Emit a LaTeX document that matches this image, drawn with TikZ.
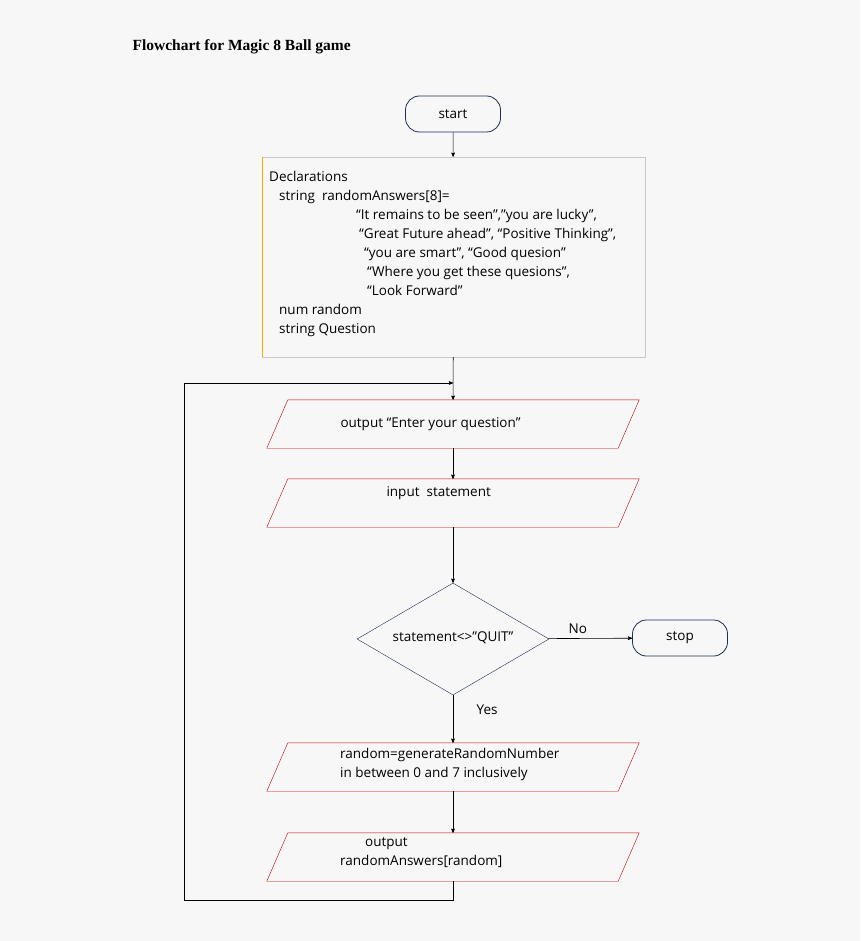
\documentclass[tikz,border=0pt]{standalone}
\usepackage{fontspec}
\setmainfont{Open Sans}
\newfontfamily\titlefont{Liberation Serif}
\usetikzlibrary{arrows,shapes.geometric}
\definecolor{bg}{HTML}{F7F7F7}
\definecolor{navy}{HTML}{1F2D4F}
\definecolor{pred}{HTML}{C00000}
\definecolor{boxgray}{HTML}{C8C8C8}
\definecolor{boxyel}{HTML}{F0B400}
\begin{document}
\begin{tikzpicture}[x=1pt,y=-1pt,>=stealth',font=\fontsize{13.5}{19}\selectfont]
\tikzset{
    term/.style={%
        draw=navy, thick,
        rectangle,
        rounded corners=14pt,
        minimum height=36pt,
        minimum width=95pt
        },
    io/.style={%
        rectangle,
        minimum height=48pt,
        minimum width=372pt
        },
    flow/.style={->, semithick},
}
\fill[bg] (0,0) rectangle (860,941);
%%%TITLE
\node[anchor=west, font=\fontsize{15.5}{17}\titlefont\bfseries] (title) at (129,47) {Flowchart for Magic 8 Ball game};
%%%SHAPES
\node[term] (start) at (453,114) {start};
\node[draw=boxgray, minimum width=383pt, minimum height=200pt] (decl) at (453.5,257) {};
\draw[boxyel] (decl.south west) -- (decl.north west);
\node[io] (ask) at (453,424) {};
\node[io] (inp) at (453,503) {};
\node[draw=navy, diamond, aspect=1.72, minimum width=192pt, minimum height=112pt, inner sep=0pt] (quit) at (453,639) {};
\node[term] (stop) at (680,638) {stop};
\node[io] (gen) at (453,767) {};
\node[io] (show) at (453,857) {};
\foreach \n in {ask,inp,gen,show}
    \draw[pred] ([xshift=21pt]\n.north west) -- (\n.north east)
        -- ([xshift=-21pt]\n.south east) -- (\n.south west) -- cycle;
%%%TEXTS
\node[anchor=north west, align=left, inner sep=0pt] (decltext) at (269,171) {Declarations\\
\hspace{10pt}string\ \ randomAnswers[8]=\\
\hspace{87pt}“It remains to be seen”,”you are lucky”,\\
\hspace{90pt}“Great Future ahead”, “Positive Thinking”,\\
\hspace{95pt}“you are smart”, “Good quesion”\\
\hspace{98pt}“Where you get these quesions”,\\
\hspace{98pt}“Look Forward”\\
\hspace{10pt}num random\\
\hspace{10pt}string Question};
\node[anchor=west] (asktext) at (337,424) {output “Enter your question”};
\node[anchor=west] (inptext) at (383,493) {input\ \ statement};
\node (quittext) at (453,638) {statement<>”QUIT”};
\node[anchor=north west, align=left, inner sep=0pt] (gentext) at (340,748) {random=generateRandomNumber\\in between 0 and 7 inclusively};
\node[anchor=north west, align=left, inner sep=0pt] (showtext) at (340,837) {\hspace{25pt}output\\randomAnswers[random]};
%%%CONNECTORS
\coordinate (join) at (453,383);
\draw[flow] (start) -- (decl);
\draw[flow] (decl) -- (ask);
\draw[flow] (ask) -- (inp);
\draw[flow] (inp) -- (quit);
\draw[flow] (quit) -- node[above=1pt, pos=0.35] {No} (stop);
\draw[flow] (quit) -- node[right=20pt, pos=0.3] {Yes} (gen);
\draw[flow] (gen) -- (show);
\draw[flow] (show.south) -- (453,900) -- (184,900) -- (184,383) -- (join);
\end{tikzpicture}
\end{document}
